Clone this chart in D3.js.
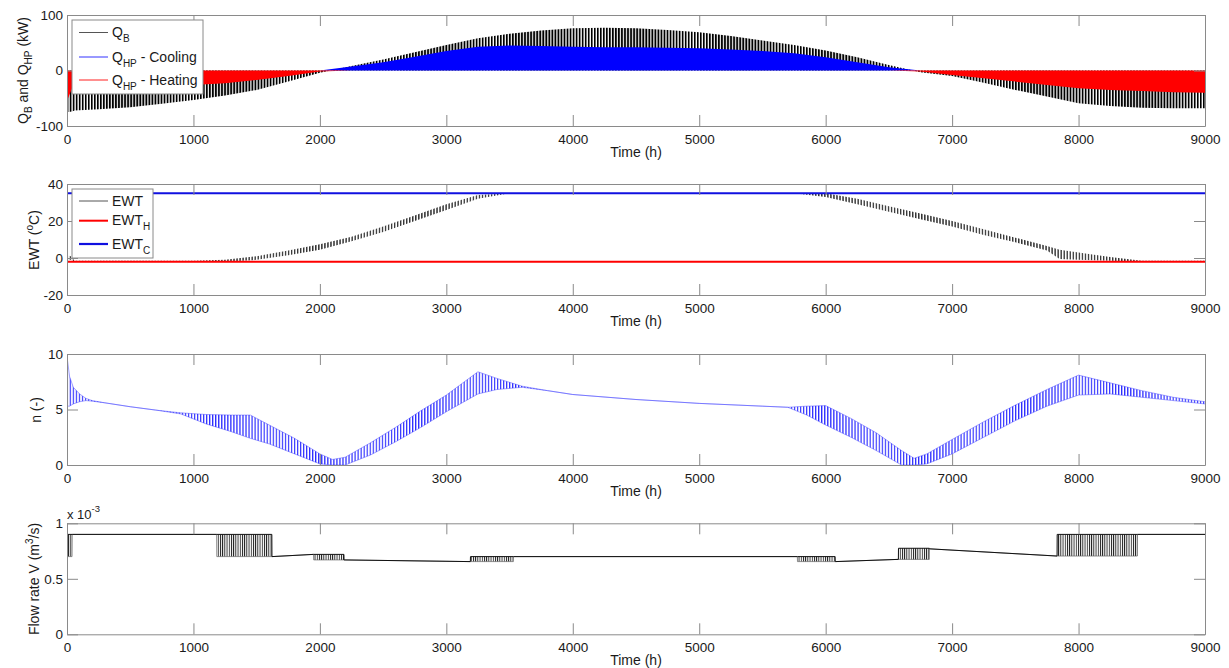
<!DOCTYPE html>
<html><head><meta charset="utf-8">
<script src="https://cdn.jsdelivr.net/npm/d3@7"></script>
<style>
body{margin:0;background:#fff}
text{font-family:"Liberation Sans",Arial,Helvetica,sans-serif;fill:#1a1a1a}
</style></head>
<body><svg id="c" width="1229" height="668"></svg>
<script>
// ---------------- DATA ----------------
const xTicks = [0,1000,2000,3000,4000,5000,6000,7000,8000,9000];

// Panel 1: heat loads (kW), envelopes of the oscillating hourly signals
const qHours = [0,40,60,250,500,750,1000,1250,1500,1750,2000,2250,2500,2750,3000,3250,3500,3750,4000,4250,4500,4750,5000,5250,5500,5750,6000,6250,6500,6750,7000,7250,7500,7750,8000,8250,8500,8750,9000];
const qB     = [-75,-74,-72,-70,-66,-60,-53,-45,-35,-20,-4,8,20,33,46,58,66,72,76,77,76,73,69,62,54,46,36,24,10,-3,-10,-22,-35,-47,-59,-64,-67,-68,-68];
const qCool  = [0,0,0,0,0,0,0,0,0,0,0,7,15,25,35,43,45,44,43,42,42,41,40,38,35,31,24,15,6,0,0,0,0,0,0,0,0,0,0];
const qHeat  = [-55,-32,-29,-28,-27,-27,-26,-23,-17,-10,-2,0,0,0,0,0,0,0,0,0,0,0,0,0,0,0,0,0,0,-2,-8,-14,-20,-26,-32,-35,-37,-39,-40];
const qTicks = [-100,0,100];

// Panel 2: entering water temperature (°C)
const ewtHours = [0,30,60,250,500,750,1000,1250,1500,1750,2000,2250,2500,2750,3000,3250,3500,3750,4000,4500,5000,5500,5750,6000,6250,6500,6750,7000,7250,7500,7750,7850,8000,8250,8500,9000];
const ewtMin   = [-1.5,-1,-2,-2,-2,-2,-2,-2,-1,1.5,4.5,9,14,20,26,32,35,35,35,35,35,35,35,33,29,25,21,17,12.5,8.5,4,-0.5,-1,-1.5,-2,-2];
const ewtMax   = [1.5,1,-1.5,-1.5,-1.5,-1.5,-1.5,-1,1,4,7.5,11.5,17,23,29,34,35,35,35,35,35,35,35,35,32,28,24,20,15.5,11,6.5,4.5,3,0.5,-1.5,-1.5];
const limHours = [0,9000];
const ewtH = [-2,-2];
const ewtC = [35,35];
const ewtTicks = [-20,0,20,40];

// Panel 3: n (-)
const nHours = [0,20,50,100,150,200,300,500,700,900,1100,1300,1450,1600,1800,2000,2100,2200,2400,2600,2800,3000,3250,3400,3600,3800,4000,4500,5000,5500,5700,5850,6000,6200,6400,6600,6700,6800,7000,7250,7500,7750,8000,8250,8500,8750,9000];
const nMax = [9.8,8.0,7.0,6.4,6.0,5.8,5.6,5.25,4.95,4.7,4.55,4.5,4.5,3.6,2.4,1.0,0.5,0.7,2.0,3.4,4.9,6.3,8.4,7.8,7.1,6.7,6.35,5.9,5.55,5.3,5.2,5.3,5.35,4.2,2.9,1.3,0.6,1.0,2.3,3.9,5.4,6.8,8.1,7.4,6.7,6.1,5.7];
const nMin = [5.3,5.3,5.5,5.7,5.8,5.75,5.6,5.25,4.95,4.6,3.7,3.0,2.4,1.9,1.0,0.1,0,0,0.9,2.1,3.4,4.8,6.4,6.8,7.0,6.7,6.35,5.9,5.55,5.3,5.2,4.5,3.6,2.5,1.3,0,0,0.1,1.0,2.5,4.0,5.3,6.3,6.4,6.1,5.8,5.5];
const nTicks = [0,5,10];

// Panel 4: flow rate (x 1e-3 m3/s)
const flowHours = [0,40,41,1184,1185,1620,1621,1950,1951,2190,2191,3190,3191,3530,3531,5776,5777,6075,6076,6575,6576,6820,6821,7830,7831,8465,8466,9000];
const flowMax   = [0.9,0.9,0.9,0.9,0.9,0.9,0.70,0.72,0.72,0.72,0.67,0.655,0.70,0.70,0.70,0.70,0.70,0.70,0.655,0.675,0.775,0.775,0.77,0.705,0.9,0.9,0.9,0.9];
const flowMin   = [0.7,0.7,0.9,0.9,0.7,0.7,0.70,0.72,0.67,0.67,0.67,0.655,0.655,0.655,0.70,0.70,0.655,0.655,0.655,0.675,0.675,0.675,0.77,0.705,0.705,0.705,0.9,0.9];
const flowTicks = [0,0.5,1];

// ---------------- DRAWING ----------------
const svg = d3.select('#c');
const L = 67, R = 1205, PH = 111;
const x = d3.scaleLinear().domain([0,9000]).range([L,R]);
const grey = '#8a8a8a';

const defs = svg.append('defs');
function hatch(id, w, lw, color){
  const p = defs.append('pattern').attr('id',id).attr('patternUnits','userSpaceOnUse')
    .attr('width',w).attr('height',10);
  p.append('rect').attr('x',0).attr('y',0).attr('width',lw).attr('height',10).attr('fill',color);
}
hatch('hK', 3.03, 1.8, '#000');
hatch('hE', 3.03, 1.4, '#333');
hatch('hB', 3.03, 1.2, '#2b2bff');
hatch('hF', 2.2, 0.9, '#111');

function panel(top, domain, ticks, idx){
  const y = d3.scaleLinear().domain(domain).range([top+PH, top]);
  const g = svg.append('g');
  defs.append('clipPath').attr('id','clip'+idx).append('rect')
    .attr('x',L).attr('y',top).attr('width',R-L).attr('height',PH);
  const plot = g.append('g').attr('clip-path',`url(#clip${idx})`);
  const ax = g.append('g');
  const style = s => { s.selectAll('path,line').attr('stroke',grey).attr('stroke-width',1);
                       s.selectAll('text').attr('font-size',13.5).attr('fill','#1a1a1a')
                        .attr('font-family','"Liberation Sans",Arial,sans-serif'); };
  ax.append('g').attr('transform',`translate(0,${top+PH})`)
    .call(d3.axisBottom(x).tickValues(xTicks).tickSizeInner(-11).tickSizeOuter(0).tickPadding(8.5).tickFormat(d3.format('d')))
    .call(style);
  ax.append('g').attr('transform',`translate(0,${top})`)
    .call(d3.axisTop(x).tickValues(xTicks).tickSizeInner(-11).tickSizeOuter(0).tickFormat(''))
    .call(style);
  ax.append('g').attr('transform',`translate(${L},0)`)
    .call(d3.axisLeft(y).tickValues(ticks).tickSizeInner(-11).tickSizeOuter(0).tickPadding(4).tickFormat(d=>String(d)))
    .call(style);
  ax.append('g').attr('transform',`translate(${R},0)`)
    .call(d3.axisRight(y).tickValues(ticks).tickSizeInner(-11).tickSizeOuter(0).tickFormat(''))
    .call(style);
  g.append('text').attr('x',(L+R)/2).attr('y',top+PH+31).attr('text-anchor','middle')
    .attr('font-size',14).text('Time (h)');
  return {y, plot, g};
}

function band(plot, hours, lo, hi, y, fill){
  const data = hours.map((h,i)=>({h, lo:lo[i], hi:hi[i]}));
  plot.append('path').datum(data)
    .attr('d', d3.area().x(d=>x(d.h)).y0(d=>y(d.lo)).y1(d=>y(d.hi)))
    .attr('fill', fill);
  return data;
}
function line(plot, hours, vals, y, color, w, op){
  plot.append('path').datum(hours.map((h,i)=>({h,v:vals[i]})))
    .attr('d', d3.line().x(d=>x(d.h)).y(d=>y(d.v)))
    .attr('fill','none').attr('stroke',color).attr('stroke-width',w)
    .attr('stroke-opacity', op===undefined?1:op);
}
function ylabel(g, xb, yc, parts){
  const t = g.append('text').attr('transform',`translate(${xb},${yc}) rotate(-90)`)
    .attr('text-anchor','middle').attr('font-size',14);
  parts.forEach(p=>{
    const s = t.append('tspan').text(p[0]);
    if (p[1]==='sub') s.attr('font-size',10).attr('dy',4);
    if (p[1]==='sup') s.attr('font-size',10).attr('dy',-6);
    if (p[1]==='back') s.attr('dy',-4);
    if (p[1]==='down') s.attr('dy',6);
  });
}
function legendText(g, xt, yb, parts){
  const t = g.append('text').attr('x',xt).attr('y',yb).attr('font-size',14);
  parts.forEach(p=>{
    const s = t.append('tspan').text(p[0]);
    if (p[1]==='sub') s.attr('font-size',10).attr('dy',5);
    if (p[1]==='back') s.attr('dy',-5);
  });
}

// ---- Panel 1
{
  const {y, plot, g} = panel(15, [-100,100], qTicks, 1);
  const zero = qHours.map(()=>0);
  band(plot, qHours, zero, qB, y, 'url(#hK)');
  band(plot, qHours, zero, qCool, y, '#0000ff');
  band(plot, qHours, zero, qHeat, y, '#ff0000');
  ylabel(g, 28, 70.5, [['Q'],['B','sub'],[' and Q','back'],['HP','sub'],[' (kW)','back']]);
  const lg = g.append('g');
  lg.append('rect').attr('x',72).attr('y',20).attr('width',131).attr('height',74)
    .attr('fill','#fff').attr('stroke',grey);
  [[32.5,'#555'],[57,'#3333ff'],[80,'#ff2020']].forEach(([yy,c])=>{
    lg.append('line').attr('x1',79).attr('x2',108).attr('y1',yy).attr('y2',yy)
      .attr('stroke',c).attr('stroke-width',1);
  });
  legendText(lg,112,36.5,[['Q'],['B','sub']]);
  legendText(lg,112,61.5,[['Q'],['HP','sub'],[' - Cooling','back']]);
  legendText(lg,112,85,[['Q'],['HP','sub'],[' - Heating','back']]);
}
// ---- Panel 2
{
  const {y, plot, g} = panel(184, [-20,40], ewtTicks, 2);
  band(plot, ewtHours, ewtMin, ewtMax, y, 'url(#hE)');
  line(plot, limHours, ewtH, y, '#ff0000', 2);
  line(plot, limHours, ewtC, y, '#1010e0', 2);
  ylabel(g, 39, 240, [['EWT ('],['o','sup'],['C)','down']]);
  const lg = g.append('g');
  lg.append('rect').attr('x',72).attr('y',189).attr('width',81).attr('height',69)
    .attr('fill','#fff').attr('stroke',grey);
  [[201,'#555',1],[220.7,'#ff0000',2],[244,'#1010e0',2.2]].forEach(([yy,c,w])=>{
    lg.append('line').attr('x1',79).attr('x2',108).attr('y1',yy).attr('y2',yy)
      .attr('stroke',c).attr('stroke-width',w);
  });
  legendText(lg,112,206,[['EWT']]);
  legendText(lg,112,225,[['EWT'],['H','sub']]);
  legendText(lg,112,248.5,[['EWT'],['C','sub']]);
}
// ---- Panel 3
{
  const {y, plot, g} = panel(354, [0,10], nTicks, 3);
  band(plot, nHours, nMin, nMax, y, 'url(#hB)');
  line(plot, nHours, nMax, y, '#3a3aff', 0.8, 0.55);
  line(plot, nHours, nMin, y, '#3a3aff', 0.8, 0.55);
  ylabel(g, 41, 410, [['n (-)']]);
}
// ---- Panel 4
{
  const {y, plot, g} = panel(523.3, [0,1], flowTicks, 4);
  band(plot, flowHours, flowMin, flowMax, y, 'url(#hF)');
  line(plot, flowHours, flowMin, y, '#666', 0.7);
  line(plot, flowHours, flowMax, y, '#111', 1);
  ylabel(g, 39, 579, [['Flow rate V (m'],['3','sup'],['/s)','down']]);
  const t = g.append('text').attr('x',67).attr('y',519).attr('font-size',13);
  t.append('tspan').text('x 10');
  t.append('tspan').attr('font-size',9.5).attr('dy',-7).text('-3');
}
</script>
</body></html>
